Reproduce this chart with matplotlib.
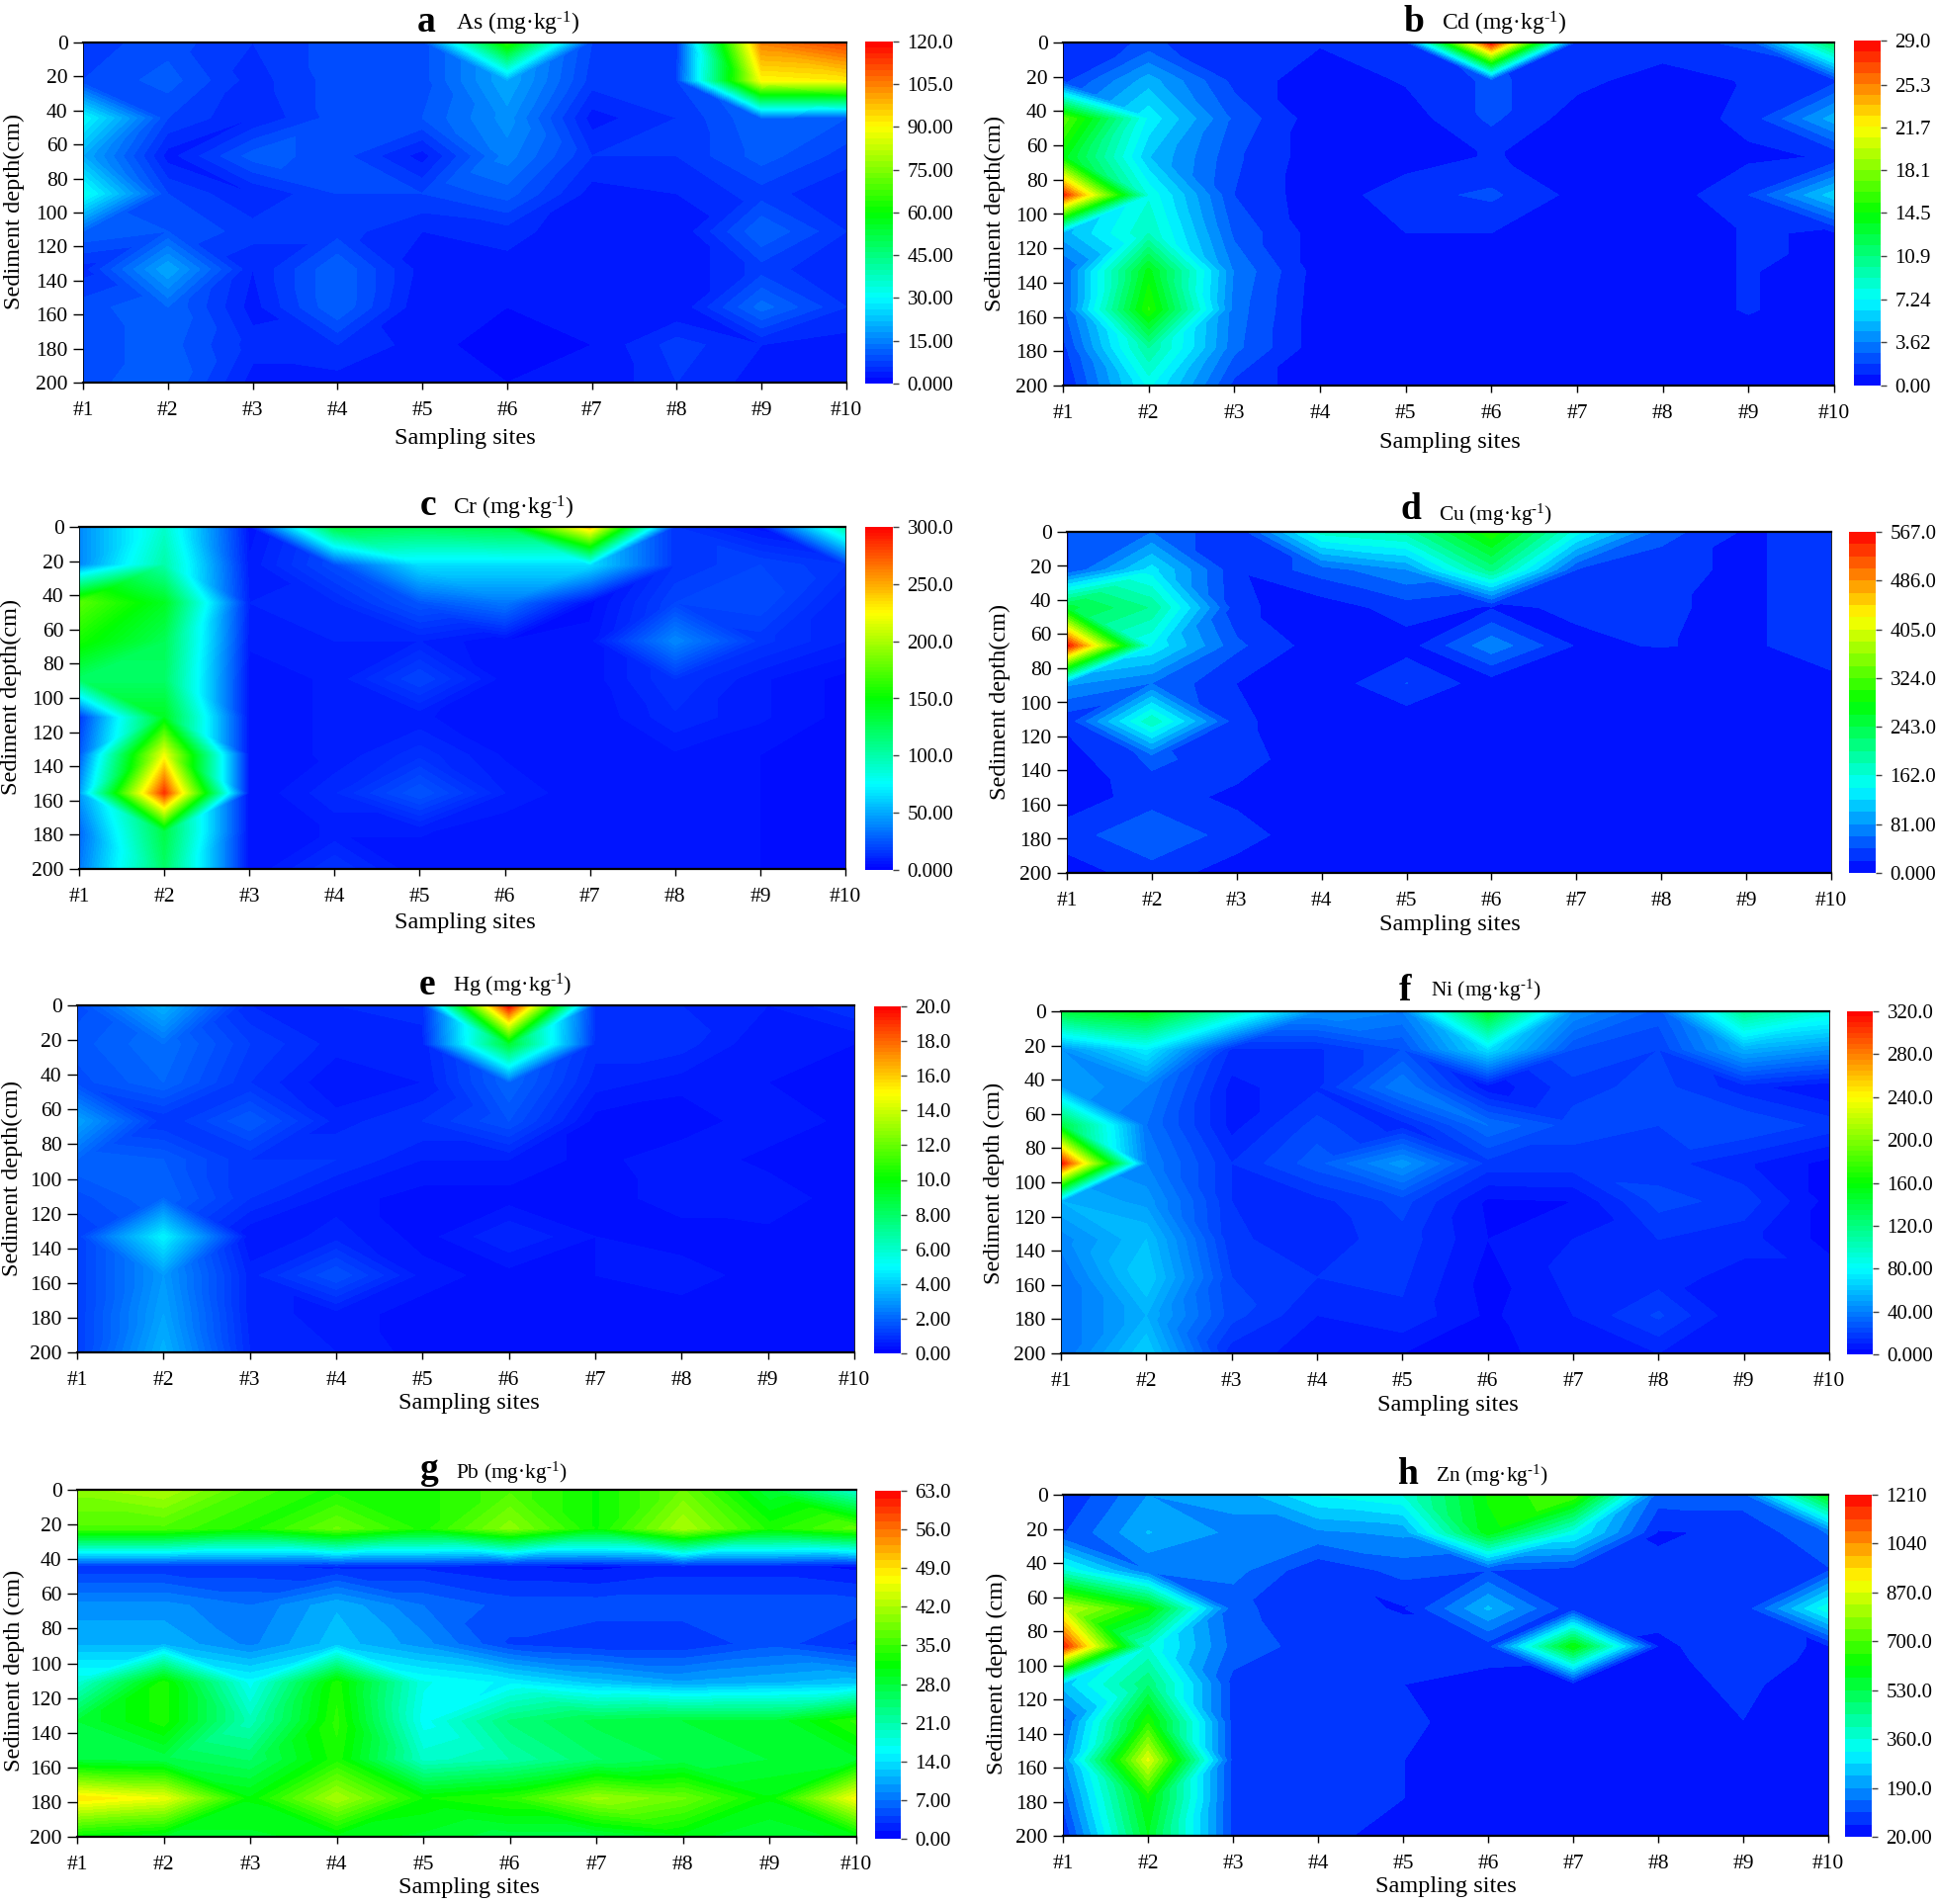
import matplotlib
matplotlib.use("Agg")
import matplotlib.pyplot as plt
import matplotlib.tri as mtri
import numpy as np
from matplotlib.colors import LinearSegmentedColormap

plt.rcParams["font.family"] = ["Liberation Serif", "DejaVu Serif"]
plt.rcParams["mathtext.fontset"] = "custom"
plt.rcParams["mathtext.rm"] = "Liberation Serif"
plt.rcParams["mathtext.default"] = "regular"

W, H = 1959, 1926

SITES = [1, 2, 3, 4, 5, 6, 7, 8, 9, 10]
SITE_LABELS = ["#1", "#2", "#3", "#4", "#5", "#6", "#7", "#8", "#9", "#10"]
DEPTHS = [0, 22.2, 44.4, 66.7, 88.9, 111.1, 133.3, 155.6, 177.8, 200]
DEPTH_TICKS = [0, 20, 40, 60, 80, 100, 120, 140, 160, 180, 200]

# rows are depths, columns are sites
AS = [
    [7, 9, 6, 9, 9, 65, 8, 7, 105, 112],
    [8, 11, 5, 9, 9, 20, 7, 8, 90, 92],
    [30, 8, 4, 9, 10, 17, 3, 6, 12, 10],
    [20, 3, 11, 9, 3, 15, 6, 6, 11, 7],
    [32, 8, 4, 8, 8, 11, 3, 4, 7, 4],
    [12, 10, 7, 7, 4, 5, 2, 2, 12, 6],
    [5, 20, 4, 12, 3, 3, 2, 2, 7, 4],
    [9, 12, 3, 12, 2, 2, 2, 2, 13, 6],
    [9, 11, 5, 6, 3, 0.5, 2, 7, 4, 3],
    [9, 12, 3, 3, 2, 2, 2, 6, 3, 3],
]
CD = [
    [1.0, 2.0, 1.0, 1.0, 1.5, 29.0, 1.0, 1.5, 2.0, 12.0],
    [1.5, 5.0, 1.5, 0.3, 1.0, 2.0, 1.2, 0.4, 1.0, 1.5],
    [17.0, 7.0, 2.5, 0.3, 0.4, 2.0, 0.4, 0.3, 1.2, 5.0],
    [14.0, 5.5, 2.0, 0.3, 0.4, 1.0, 0.4, 0.3, 0.7, 1.0],
    [28.0, 8.0, 1.8, 0.3, 1.5, 2.0, 0.6, 0.3, 1.8, 6.0],
    [5.0, 9.0, 2.5, 0.4, 0.9, 0.9, 0.8, 0.3, 1.0, 0.8],
    [2.5, 14.0, 3.5, 0.4, 0.3, 0.3, 0.3, 0.3, 1.0, 0.3],
    [2.5, 15.5, 3.2, 0.3, 0.3, 0.3, 0.3, 0.3, 1.0, 0.3],
    [1.5, 10.0, 3.0, 0.3, 0.3, 0.3, 0.3, 0.3, 0.3, 0.3],
    [0.7, 7.5, 1.5, 0.3, 0.3, 0.3, 0.3, 0.3, 0.3, 0.3],
]
CR = [
    [40, 90, 6, 130, 125, 130, 240, 15, 6, 100],
    [40, 100, 8, 22, 65, 65, 65, 15, 20, 15],
    [175, 140, 10, 12, 25, 35, 4, 20, 22, 10],
    [155, 125, 8, 10, 10, 5, 6, 40, 16, 10],
    [120, 120, 6, 8, 20, 6, 6, 15, 8, 4],
    [15, 140, 6, 8, 8, 5, 5, 12, 8, 4],
    [25, 220, 6, 8, 14, 7, 5, 7, 5, 4],
    [45, 285, 5, 12, 25, 10, 5, 5, 5, 4],
    [30, 130, 5, 8, 8, 5, 5, 5, 5, 4],
    [35, 120, 5, 15, 5, 5, 5, 5, 5, 4],
]
CU = [
    [40, 60, 22, 170, 190, 300, 150, 50, 17, 30],
    [40, 130, 22, 50, 80, 210, 40, 25, 17, 30],
    [250, 200, 25, 8, 30, 18, 22, 22, 17, 30],
    [560, 140, 45, 8, 10, 75, 18, 21, 17, 30],
    [85, 60, 20, 6, 41, 8, 5, 5, 8, 15],
    [25, 180, 25, 5, 5, 5, 5, 5, 5, 5],
    [10, 45, 30, 5, 5, 5, 5, 5, 5, 5],
    [8, 30, 15, 5, 5, 5, 5, 5, 5, 5],
    [30, 60, 30, 5, 5, 5, 5, 5, 5, 5],
    [10, 30, 10, 5, 5, 5, 5, 5, 5, 5],
]
HG = [
    [1.5, 3.5, 0.8, 0.8, 0.9, 20.0, 1.0, 0.8, 0.6, 1.0],
    [1.7, 2.2, 1.2, 0.7, 0.7, 9.0, 0.9, 0.9, 0.4, 0.4],
    [1.5, 2.0, 1.0, 0.4, 0.6, 2.0, 0.7, 0.5, 0.4, 0.3],
    [3.2, 1.0, 1.8, 0.7, 1.0, 1.6, 0.3, 0.2, 0.6, 0.3],
    [2.0, 1.8, 1.0, 1.0, 0.6, 0.6, 0.3, 0.6, 0.3, 0.2],
    [1.5, 2.0, 1.0, 0.5, 0.3, 0.3, 0.3, 0.5, 0.6, 0.2],
    [1.2, 4.8, 0.4, 0.7, 0.3, 0.8, 0.4, 0.3, 0.3, 0.2],
    [1.2, 3.0, 0.7, 1.6, 0.5, 0.3, 0.4, 0.5, 0.3, 0.2],
    [1.2, 3.2, 0.7, 0.5, 0.3, 0.2, 0.2, 0.3, 0.2, 0.2],
    [1.2, 3.5, 0.8, 0.6, 0.3, 0.3, 0.4, 0.4, 0.2, 0.3],
]
NI = [
    [140, 155, 100, 45, 40, 150, 45, 28, 115, 90],
    [45, 75, 14, 14, 25, 70, 25, 20, 55, 45],
    [50, 40, 8, 14, 40, 6, 18, 22, 12, 5],
    [140, 35, 8, 22, 12, 35, 22, 20, 25, 18],
    [315, 40, 15, 28, 48, 18, 18, 17, 11, 3],
    [55, 48, 15, 13, 22, 4, 5, 22, 18, 3],
    [42, 60, 16, 12, 18, 5, 10, 15, 12, 3],
    [35, 65, 20, 15, 16, 3, 12, 12, 8, 8],
    [35, 55, 22, 10, 14, 4, 10, 21, 5, 8],
    [35, 65, 12, 8, 5, 3, 8, 10, 5, 5],
]
PB = [
    [40, 42, 36, 33, 33, 36, 32, 38, 28, 18],
    [36, 36, 33, 38, 33, 40, 32, 42, 33, 37],
    [3, 3, 3, 2.5, 2.5, 1.5, 1, 2, 2, 1],
    [9, 9, 7, 11, 7, 5, 5, 5, 5, 5],
    [11, 11, 8, 12, 9, 4, 3, 3, 5, 2.5],
    [18, 33, 16, 33, 17, 15, 12, 10, 11, 12],
    [28, 33, 20, 34, 16, 24, 27, 28, 28, 34],
    [28, 27, 25, 33, 19, 21, 25, 27, 28, 29],
    [49, 46, 31, 42, 32, 34, 41, 38, 31, 47],
    [31, 29, 29, 30, 29, 27, 27, 30, 28, 30],
]
ZN = [
    [60, 190, 200, 320, 360, 620, 700, 130, 130, 600],
    [100, 235, 180, 180, 200, 600, 330, 58, 70, 150],
    [360, 150, 165, 70, 120, 105, 85, 70, 70, 100],
    [850, 620, 115, 80, 58, 240, 75, 70, 75, 350],
    [1180, 360, 130, 85, 85, 85, 620, 58, 75, 58],
    [250, 480, 90, 85, 63, 45, 40, 50, 70, 40],
    [130, 650, 90, 85, 75, 35, 35, 30, 62, 30],
    [180, 880, 90, 85, 63, 30, 30, 30, 40, 30],
    [120, 620, 90, 85, 63, 30, 30, 30, 30, 30],
    [60, 570, 90, 75, 45, 30, 30, 30, 30, 30],
]

AS_CBAR = ["0.000", "15.00", "30.00", "45.00", "60.00", "75.00", "90.00", "105.0", "120.0"]
CD_CBAR = ["0.00", "3.62", "7.24", "10.9", "14.5", "18.1", "21.7", "25.3", "29.0"]
CR_CBAR = ["0.000", "50.00", "100.0", "150.0", "200.0", "250.0", "300.0"]
CU_CBAR = ["0.000", "81.00", "162.0", "243.0", "324.0", "405.0", "486.0", "567.0"]
HG_CBAR = ["0.00", "2.00", "4.00", "6.00", "8.00", "10.0", "12.0", "14.0", "16.0", "18.0", "20.0"]
NI_CBAR = ["0.000", "40.00", "80.00", "120.0", "160.0", "200.0", "240.0", "280.0", "320.0"]
PB_CBAR = ["0.00", "7.00", "14.0", "21.0", "28.0", "35.0", "42.0", "49.0", "56.0", "63.0"]
ZN_CBAR = ["20.00", "190.0", "360.0", "530.0", "700.0", "870.0", "1040", "1210"]

cmap = LinearSegmentedColormap.from_list(
    "origin_rainbow", ["#0000ff", "#00ffff", "#00ff00", "#ffff00", "#ff0000"], N=512
)

# all layout numbers are pixels in the 1959x1926 picture
PANELS = [
    dict(letter="a", name="As", data=AS, cbar=AS_CBAR, levels=60, ax=(84, 43, 856, 387), cax=(875, 42, 903, 388),
         letter_xy=(431, 32), name_xy=(461, 30), name_size=17, ylab="Sediment depth(cm)", ylab_xy=(14, 214), xlab_xy=(470, 443)),
    dict(letter="b", name="Cd", data=CD, cbar=CD_CBAR, levels=32, ax=(1075, 43, 1855, 390), cax=(1875, 41, 1902, 390),
         letter_xy=(1430, 32), name_xy=(1458, 30), name_size=17, ylab="Sediment depth(cm)", ylab_xy=(1006, 216), xlab_xy=(1466, 447)),
    dict(letter="c", name="Cr", data=CR, cbar=CR_CBAR, levels=120, ax=(80, 533, 855, 879), cax=(875, 533, 903, 880),
         letter_xy=(433, 521), name_xy=(458, 520), name_size=17, ylab="Sediment depth(cm)", ylab_xy=(11, 705), xlab_xy=(470, 933)),
    dict(letter="d", name="Cu", data=CU, cbar=CU_CBAR, levels=28, ax=(1079, 538, 1852, 883), cax=(1870, 538, 1897, 883),
         letter_xy=(1427, 525), name_xy=(1455, 527), name_size=15.5, ylab="Sediment depth(cm)", ylab_xy=(1011, 710), xlab_xy=(1466, 935)),
    dict(letter="e", name="Hg", data=HG, cbar=HG_CBAR, levels=100, ax=(78, 1017, 864, 1368), cax=(884, 1018, 911, 1369),
         letter_xy=(432, 1006), name_xy=(458, 1003), name_size=16, ylab="Sediment depth(cm)", ylab_xy=(12, 1192), xlab_xy=(474, 1419)),
    dict(letter="f", name="Ni", data=NI, cbar=NI_CBAR, levels=64, ax=(1073, 1023, 1850, 1369), cax=(1868, 1023, 1894, 1370),
         letter_xy=(1421, 1012), name_xy=(1447, 1008), name_size=15.5, ylab="Sediment depth (cm)", ylab_xy=(1005, 1197), xlab_xy=(1464, 1422)),
    dict(letter="g", name="Pb", data=PB, cbar=PB_CBAR, levels=45, ax=(78, 1507, 866, 1858), cax=(885, 1508, 911, 1860),
         letter_xy=(434, 1496), name_xy=(461, 1496), name_size=15.5, ylab="Sediment depth (cm)", ylab_xy=(14, 1690), xlab_xy=(474, 1909)),
    dict(letter="h", name="Zn", data=ZN, cbar=ZN_CBAR, levels=28, ax=(1075, 1512, 1849, 1857), cax=(1866, 1512, 1893, 1858),
         letter_xy=(1424, 1501), name_xy=(1452, 1499), name_size=15.5, ylab="Sediment depth (cm)", ylab_xy=(1008, 1693), xlab_xy=(1462, 1908)),
]


def add_axes_px(fig, box):
    x0, y0, x1, y1 = box
    return fig.add_axes([x0 / W, 1 - y1 / H, (x1 - x0) / W, (y1 - y0) / H])


def text_px(fig, x, y, s, **kwargs):
    return fig.text(x / W, 1 - y / H, s, **kwargs)


def mesh_triangles(z):
    # split each grid cell along the diagonal whose corners are closest in value,
    # so a single peak gets straight-sided contours like the original software
    tris = []
    nrow, ncol = z.shape
    for r in range(nrow - 1):
        for c in range(ncol - 1):
            a = r * ncol + c
            b = a + 1
            d = a + ncol
            e = d + 1
            if abs(z[r, c] - z[r + 1, c + 1]) <= abs(z[r, c + 1] - z[r + 1, c]):
                tris += [[a, b, e], [a, e, d]]
            else:
                tris += [[a, b, d], [b, e, d]]
    return tris


def draw_panel(fig, p):
    ax = add_axes_px(fig, p["ax"])
    ticks = [float(s) for s in p["cbar"]]
    levels = np.linspace(ticks[0], ticks[-1], p["levels"] + 1)
    z = np.array(p["data"], dtype=float)
    xx, yy = np.meshgrid(SITES, DEPTHS)
    tri = mtri.Triangulation(xx.ravel(), yy.ravel(), mesh_triangles(z))
    cf = ax.tricontourf(tri, z.ravel(), levels=levels, cmap=cmap)
    ax.set_ylim(200, 0)
    ax.set_xlim(1, 10)
    ax.set_xticks(SITES, SITE_LABELS, fontsize=15.5)
    ax.set_yticks(DEPTH_TICKS, [str(d) for d in DEPTH_TICKS], fontsize=15.5)
    ax.tick_params(axis="x", length=5, width=1, pad=9)
    ax.tick_params(axis="y", length=7, width=1, pad=4)
    for side in ["top", "bottom"]:
        ax.spines[side].set_linewidth(1.6)
    for side in ["left", "right"]:
        ax.spines[side].set_linewidth(0.6)

    cax = add_axes_px(fig, p["cax"])
    cb = fig.colorbar(cf, cax=cax, ticks=ticks)
    cb.ax.set_yticklabels(p["cbar"], fontsize=15)
    cb.ax.tick_params(length=4.5, width=1, pad=6, color="#444444")
    cb.outline.set_visible(False)

    text_px(fig, *p["letter_xy"], p["letter"], fontsize=27, fontweight="bold", ha="center", va="baseline")
    text_px(fig, *p["name_xy"], p["name"] + " (mg·kg$^{\u20101}$)", fontsize=p["name_size"], ha="left", va="baseline")
    text_px(fig, *p["ylab_xy"], p["ylab"], fontsize=17.5, rotation=90, ha="center", va="center")
    text_px(fig, *p["xlab_xy"], "Sampling sites", fontsize=17.5, ha="center", va="center")


def main():
    fig = plt.figure(figsize=(W / 100, H / 100), dpi=100)
    for p in PANELS:
        draw_panel(fig, p)
    fig.savefig("out.png", dpi=100)
    plt.close(fig)


if __name__ == "__main__":
    main()
